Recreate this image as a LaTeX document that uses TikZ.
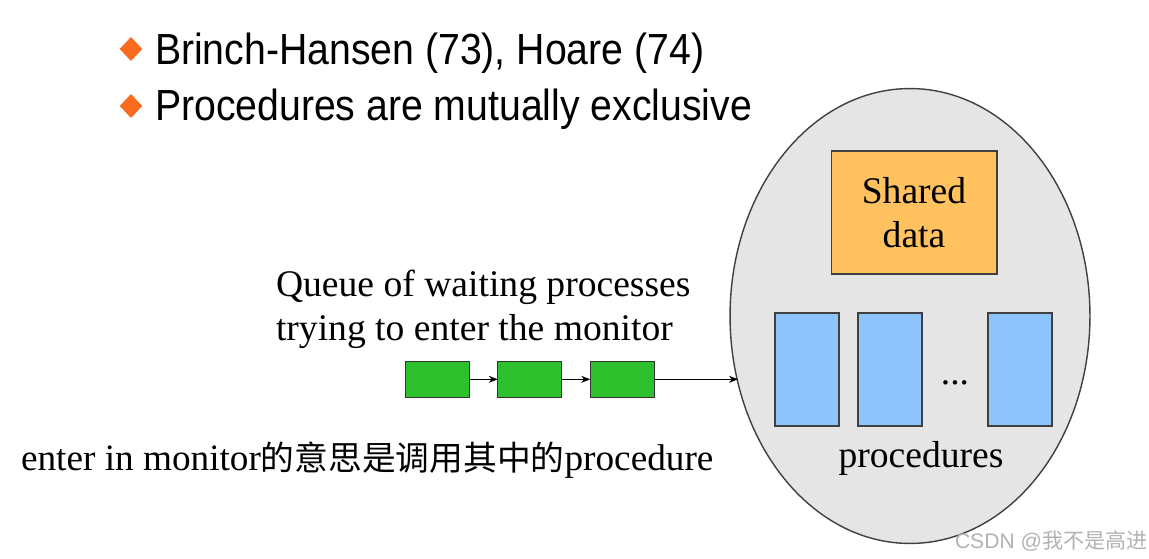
\documentclass[tikz,border=0pt]{standalone}
\usepackage{fontspec}
\setmainfont{Liberation Serif}
\newfontfamily\bulletfont[FakeStretch=0.9]{Liberation Sans}
\newfontfamily\markfont{Liberation Sans}
\newfontfamily\cjkfont{Noto Sans CJK SC}
\usepackage{tikz}
\usetikzlibrary{shapes.geometric,arrows.meta}

\definecolor{bulletorange}{HTML}{F96B1E}
\definecolor{queuegreen}{HTML}{2DC02D}
\definecolor{shareorange}{HTML}{FFC25E}
\definecolor{procblue}{HTML}{8EC4FB}
\definecolor{monitorgray}{HTML}{E5E5E5}

\begin{document}
\begin{tikzpicture}[x=0.02cm, y=-0.02cm,
        every node/.style={inner sep=0pt, outer sep=0pt},
        bullet/.style={diamond, fill=bulletorange, minimum width=0.45cm, minimum height=0.48cm},
        bullettext/.style={anchor=base west, font=\bulletfont\fontsize{24.8}{28}\selectfont},
        qtext/.style={font=\fontsize{21.4}{25}\selectfont},
        waiting/.style={rectangle, draw=black!80, fill=queuegreen, line width=0.6pt, minimum width=1.28cm, minimum height=0.73cm},
        proc/.style={rectangle, draw=black!75, fill=procblue, line width=0.6pt, minimum width=1.28cm, minimum height=2.26cm},
        arrow/.style={-{Stealth[length=0.18cm, width=0.14cm]}, line width=0.5pt, draw=black},
    ]
        \fill[white] (0,0) rectangle (1149,558);
        \useasboundingbox (0,0) rectangle (1149,558);

        % bullet points
        \node[bullet] (b1) at (131,49) {};
        \node[bullettext] (hist) at (155,64) {Brinch-Hansen (73), Hoare (74)};
        \node[bullet] (b2) at (131,106) {};
        \node[bullettext] (mutex) at (155,120) {Procedures are mutually exclusive};

        % the monitor
        \node[ellipse, draw=black!75, fill=monitorgray, line width=0.8pt, minimum width=7.2cm, minimum height=9.1cm] (monitor) at (910,316) {};
        \node[rectangle, draw=black!75, fill=shareorange, line width=0.6pt, minimum width=3.32cm, minimum height=2.46cm, align=center, qtext] (shared) at (914,212.5) {Shared\\data};
        \node[proc] (p1) at (807,369.5) {};
        \node[proc] (p2) at (890,369.5) {};
        \node[proc] (p3) at (1020,369.5) {};
        \node[qtext, anchor=base] (dots) at (955,384) {...};
        \node[qtext, anchor=base] (procs) at (921,467) {procedures};

        % entry queue
        \node[qtext, anchor=base west] (queue) at (276,296) {Queue of waiting processes};
        \node[qtext, anchor=base west] (queue2) at (276,340) {trying to enter the monitor};
        \node[waiting] (w1) at (437.5,379.3) {};
        \node[waiting] (w2) at (529.7,379.3) {};
        \node[waiting] (w3) at (622.2,379.3) {};
        \coordinate (entry) at (738,379.3);

        \draw[arrow] (w1) -- (w2);
        \draw[arrow] (w2) -- (w3);
        \draw[arrow] (w3) -- (entry);

        \node[anchor=base west, font=\fontsize{21.2}{25}\selectfont] (note) at (21,470) {enter in monitor{\cjkfont\fontsize{19.2}{22}\selectfont 的意思是调用其中的}procedure};

        \node[anchor=base west, font=\markfont\fontsize{12}{14}\selectfont, text=black!30] (mark) at (955,548) {CSDN @{\cjkfont 我不是高进}};

    \end{tikzpicture}
\end{document}
